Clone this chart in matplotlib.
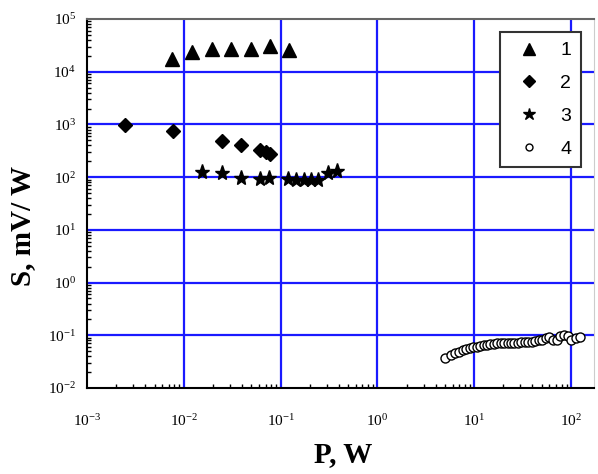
import matplotlib
matplotlib.use("Agg")
import matplotlib.pyplot as plt
from matplotlib.lines import Line2D
from matplotlib.ticker import LogLocator, NullFormatter, FixedLocator

# Series 1 (triangles)
p1 = [0.0076, 0.0123, 0.0196, 0.0309, 0.0493, 0.0773, 0.121]
s1 = [17500, 23700, 26900, 26900, 26900, 31000, 26100]
# Series 2 (diamonds)
p2 = [0.00246, 0.00771, 0.0246, 0.0389, 0.0614, 0.0703, 0.0773]
s2 = [970, 740, 480, 410, 323, 300, 275]
# Series 3 (stars)
p3 = [0.0155, 0.0246, 0.0389, 0.061, 0.076, 0.119, 0.143, 0.174, 0.204, 0.242, 0.309, 0.383]
s3 = [124, 119, 96, 93, 96, 93, 89, 87, 87, 89, 119, 128]
# Series 4 (open circles)
p4 = [5.0, 5.7, 6.3, 6.9, 7.6, 8.3, 9.0, 9.8, 10.6, 11.5,
      12.5, 13.5, 14.7, 16.0, 17.3, 18.8, 20.4, 22.2, 24.0, 26.0,
      28.3, 30.7, 33.3, 36.1, 39.2, 42.5, 46.2, 50, 55, 60,
      65, 71, 77, 84, 93, 100, 112, 125]
s4 = [0.037, 0.043, 0.046, 0.049, 0.052, 0.054, 0.057, 0.059, 0.061, 0.063,
      0.065, 0.066, 0.067, 0.069, 0.070, 0.071, 0.072, 0.072, 0.072, 0.071,
      0.072, 0.073, 0.074, 0.075, 0.076, 0.078, 0.080, 0.083, 0.088, 0.094,
      0.083, 0.080, 0.095, 0.102, 0.096, 0.083, 0.090, 0.094]

labels = ["1", "2", "3", "4"]
xticks = [1e-3, 1e-2, 1e-1, 1e0, 1e1, 1e2]
xticklabels = ["$10^{-3}$", "$10^{-2}$", "$10^{-1}$", "$10^{0}$", "$10^{1}$", "$10^{2}$"]
yticks = [1e-2, 1e-1, 1e0, 1e1, 1e2, 1e3, 1e4, 1e5]
yticklabels = ["$10^{-2}$", "$10^{-1}$", "$10^{0}$", "$10^{1}$", "$10^{2}$", "$10^{3}$", "$10^{4}$", "$10^{5}$"]

plt.rcParams['font.family'] = ['Liberation Serif', 'DejaVu Serif']
plt.rcParams['mathtext.fontset'] = 'custom'
plt.rcParams['mathtext.rm'] = 'Liberation Serif'
plt.rcParams['mathtext.it'] = 'Liberation Serif'

fig = plt.figure(figsize=(5.98, 4.74), dpi=100)
ax = fig.add_axes([87/598, (474-388)/474, (594-87)/598, (388-19)/474])
ax.set_xscale('log')
ax.set_yscale('log')
ax.set_xlim(1e-3, 10**2.238)
ax.set_ylim(1e-2, 1e5)

gridc = '#1a1aff'
for v in xticks[1:]:
    ax.axvline(v, color=gridc, lw=1.6, zorder=1)
for v in yticks[1:-1]:
    ax.axhline(v, color=gridc, lw=1.6, zorder=1)

ax.plot(p1, s1, linestyle='none', marker='^', ms=10, color='black', zorder=3)
ax.plot(p2, s2, linestyle='none', marker='D', ms=7.5, color='black', zorder=3)
ax.plot(p3, s3, linestyle='none', marker='*', ms=11, color='black', zorder=3)
ax.plot(p4, s4, linestyle='none', marker='o', ms=6.5, mfc='white', mec='black', mew=1.0, zorder=3)

ax.xaxis.set_major_locator(FixedLocator(xticks))
ax.set_xticklabels(xticklabels, fontsize=11)
ax.yaxis.set_major_locator(FixedLocator(yticks))
ax.set_yticklabels(yticklabels, fontsize=11)
ax.xaxis.set_minor_locator(LogLocator(base=10, subs=range(2, 10), numticks=20))
ax.yaxis.set_minor_locator(LogLocator(base=10, subs=range(2, 10), numticks=20))
ax.xaxis.set_minor_formatter(NullFormatter())
ax.yaxis.set_minor_formatter(NullFormatter())
ax.tick_params(which='major', direction='in', length=0, top=False, right=False)
ax.tick_params(axis='x', which='major', pad=18)
ax.tick_params(axis='y', which='major', pad=8)
ax.tick_params(which='minor', direction='in', length=3, width=1, top=False, right=False)

ax.spines['left'].set_linewidth(1.5)
ax.spines['bottom'].set_linewidth(1.5)
ax.spines['top'].set_color('#666666')
ax.spines['top'].set_linewidth(1.5)
ax.spines['right'].set_color('#cccccc')
ax.spines['right'].set_linewidth(0.8)

ax.set_xlabel('P, W', fontsize=21, fontweight='bold', va='center')
ax.set_ylabel('S, mV/ W', fontsize=21, fontweight='bold')
ax.xaxis.set_label_coords(0.505, -0.18)
ax.yaxis.set_label_coords(-0.10, 0.44)

handles = [
    Line2D([], [], linestyle='none', marker='^', ms=8, color='black'),
    Line2D([], [], linestyle='none', marker='D', ms=6, color='black'),
    Line2D([], [], linestyle='none', marker='*', ms=9, color='black'),
    Line2D([], [], linestyle='none', marker='o', ms=5, mfc='white', mec='black', mew=1.0),
]
leg = ax.legend(handles, labels, loc='upper left',
                bbox_to_anchor=(500/598, 1 - 32/474), bbox_transform=fig.transFigure,
                fancybox=False, framealpha=1, edgecolor='#333333',
                prop={'family': 'Liberation Sans', 'size': 14},
                labelspacing=0.78, handletextpad=0.6, borderpad=0.5,
                handlelength=2.0, borderaxespad=0)
leg.get_frame().set_linewidth(1.5)

fig.savefig('out.png', dpi=100)
